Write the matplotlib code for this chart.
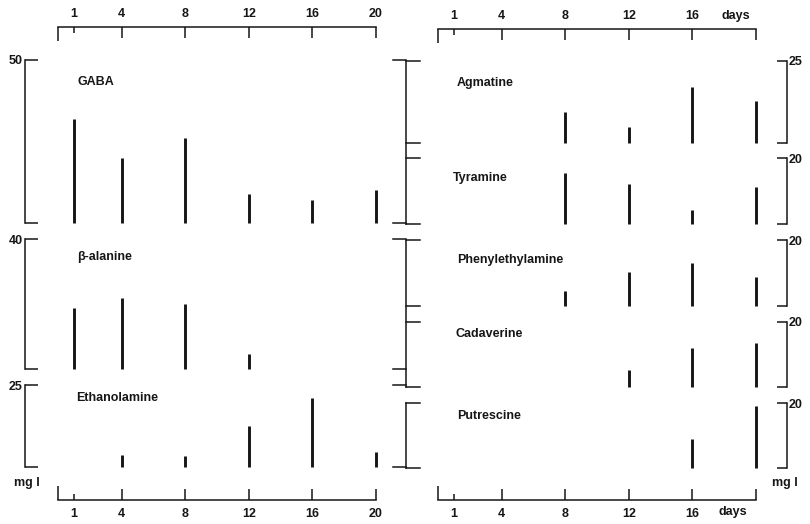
import numpy as np
import matplotlib
matplotlib.use("Agg")
import matplotlib.pyplot as plt

plt.rcParams['font.family'] = ['Liberation Sans', 'DejaVu Sans']
plt.rcParams['font.weight'] = 'bold'
plt.rcParams['font.size'] = 9

nan = np.nan

# sampling days
days = [1, 4, 8, 12, 16, 20]
day_labels = ['1', '4', '8', '12', '16', '20']
day_labels_right = ['1', '4', '8', '12', '16', '']

# concentrations (mg l-1) per sampling day
gaba = [32, 20, 26, 9, 7, 10]
beta_alanine = [18.7, 22, 20, 4.6, nan, nan]
ethanolamine = [nan, 3.7, 3.4, 12.5, 21, 4.6]
agmatine = [nan, nan, 9.5, 4.9, 17, 12.8]
tyramine = [nan, nan, 15.5, 12, 4.2, 11.2]
phenylethylamine = [nan, nan, 4.5, 10.3, 13, 8.8]
cadaverine = [nan, nan, nan, 5.2, 12, 13.5]
putrescine = [nan, nan, nan, nan, 8.9, 19]

# scale maxima of each panel
left_names = ['GABA', 'β-alanine', 'Ethanolamine']
left_series = [gaba, beta_alanine, ethanolamine]
left_max = [50, 40, 25]
right_names = ['Agmatine', 'Tyramine', 'Phenylethylamine', 'Cadaverine', 'Putrescine']
right_series = [agmatine, tyramine, phenylethylamine, cadaverine, putrescine]
right_max = [25, 20, 20, 20, 20]

# ---- layout (pixels, origin top-left) ----
W, H = 810, 524
INK = '#161616'
PT = 0.72  # points per pixel at dpi 100

left_x = (58, 376)
right_x = (438, 756)
left_rows = [(60, 223), (239, 369), (385, 467)]
right_rows = [(61, 143), (158, 224), (240, 306), (322, 387), (403, 468)]
left_label_pos = [(77, 82), (77, 257), (76, 398)]
right_label_pos = [(457, 83), (453, 178), (457, 260), (456, 334), (457, 416)]

fig = plt.figure(figsize=(W / 100, H / 100), dpi=100)
fig.patch.set_facecolor('white')


def px_axes(x0, x1, ytop, ybot):
    return fig.add_axes([x0 / W, 1 - ybot / H, (x1 - x0) / W, (ybot - ytop) / H])


# overlay in pixel coordinates for connecting scale lines and captions
ov = fig.add_axes([0, 0, 1, 1], zorder=0)
ov.set_xlim(0, W)
ov.set_ylim(H, 0)
ov.axis('off')
ov.patch.set_alpha(0)


def panel(x_rng, rows, names, series, maxima, side):
    for (ytop, ybot), name, vals, vmax in zip(rows, names, series, maxima):
        ax = px_axes(x_rng[0], x_rng[1], ytop, ybot)
        ax.patch.set_alpha(0)
        ax.set_xlim(0, 20)
        ax.set_ylim(0, vmax)
        v = np.array(vals, dtype=float)
        d = np.array(days, dtype=float)
        m = ~np.isnan(v)
        ax.vlines(d[m], 0, v[m], colors=INK, lw=2.1, capstyle='butt', clip_on=False)
        for s in ax.spines.values():
            s.set_visible(False)
        ax.set_xticks([])
        sp = ax.spines[side]
        sp.set_visible(True)
        sp.set_linewidth(1.1)
        sp.set_color(INK)
        if side == 'left':
            sp.set_position(('outward', 33 * PT))
            ax.yaxis.tick_left()
            ax.tick_params(axis='y', direction='in', length=13 * PT, width=1.1,
                           color=INK, pad=1.5, labelsize=9)
        else:
            sp.set_position(('outward', 31 * PT))
            ax.yaxis.tick_right()
            ax.tick_params(axis='y', direction='in', length=10 * PT, width=1.1,
                           color=INK, pad=1.5, labelsize=9)
        ax.set_yticks([0, vmax])
        ax.set_yticklabels(['', str(vmax)])
        for t in ax.get_yticklabels():
            t.set_fontweight('bold')
            t.set_color(INK)


panel(left_x, left_rows, left_names, left_series, left_max, 'left')
panel(right_x, right_rows, right_names, right_series, right_max, 'right')

for (x, y), name in zip(left_label_pos, left_names):
    ov.text(x, y, name, ha='left', va='center', fontsize=9, fontweight='bold', color=INK)
for (x, y), name in zip(right_label_pos, right_names):
    ov.text(x, y, name, ha='left', va='center', fontsize=9, fontweight='bold', color=INK)


def time_axis(x_rng, yline, top, labels):
    if top:
        ax = fig.add_axes([x_rng[0] / W, 1 - (yline + 20) / H, (x_rng[1] - x_rng[0]) / W, 20 / H])
    else:
        ax = fig.add_axes([x_rng[0] / W, 1 - yline / H, (x_rng[1] - x_rng[0]) / W, 20 / H])
    ax.patch.set_alpha(0)
    ax.set_xlim(0, 20)
    ax.set_yticks([])
    for s in ax.spines.values():
        s.set_visible(False)
    side = 'top' if top else 'bottom'
    ax.spines[side].set_visible(True)
    ax.spines[side].set_linewidth(1.1)
    ax.spines[side].set_color(INK)
    if top:
        ax.xaxis.tick_top()
    ax.set_xticks(days)
    ax.set_xticklabels(labels)
    ax.set_xticks([0], minor=True)
    ax.tick_params(axis='x', which='major', direction='in', length=11 * PT, width=1.1,
                   color=INK, pad=5 if top else 6, labelsize=9)
    ax.tick_params(axis='x', which='minor', direction='in', length=14 * PT, width=1.1,
                   color=INK)
    for t in ax.get_xticklabels():
        t.set_fontweight('bold')
        t.set_color(INK)
    first = ax.xaxis.get_major_ticks()[0]
    (first.tick2line if top else first.tick1line).set_markersize(6 * PT)
    return ax


time_axis(left_x, 27, True, day_labels)
time_axis(left_x, 500, False, day_labels)
time_axis(right_x, 29, True, day_labels_right)
time_axis(right_x, 500, False, day_labels_right)

# central shared scale lines
xm = 406
segments = [(61, 224), (240, 387), (403, 468)]
for y0, y1 in segments:
    ov.plot([xm, xm], [y0, y1], color=INK, lw=1.1)
for ytop, ybot in left_rows:
    for y in (ytop, ybot):
        ov.plot([xm - 13, xm], [y, y], color=INK, lw=1.1)
for ytop, ybot in right_rows:
    for y in (ytop, ybot):
        ov.plot([xm, xm + 14], [y, y], color=INK, lw=1.1)

ov.text(27, 483, 'mg l', ha='center', va='center', fontsize=9, fontweight='bold', color=INK)
ov.text(785, 483, 'mg l', ha='center', va='center', fontsize=9, fontweight='bold', color=INK)
ov.text(736, 16, 'days', ha='center', va='center', fontsize=9, fontweight='bold', color=INK)
ov.text(733, 512, 'days', ha='center', va='center', fontsize=9, fontweight='bold', color=INK)

fig.savefig('out.png', dpi=100, facecolor='white')
